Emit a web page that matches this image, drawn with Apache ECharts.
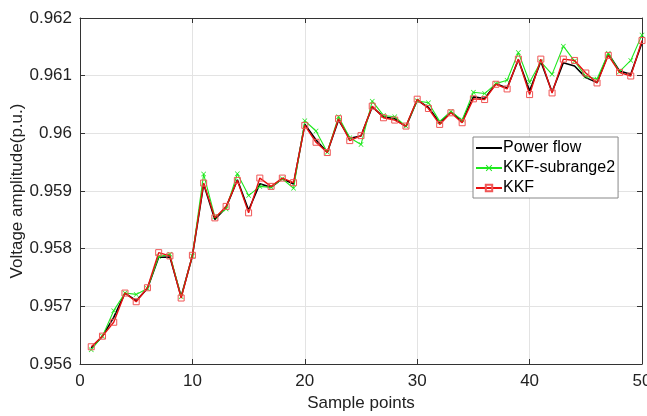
<!DOCTYPE html>
<html><head><meta charset="utf-8">
<script src="https://cdn.jsdelivr.net/npm/echarts@6/dist/echarts.min.js"></script>
<style>html,body{margin:0;padding:0;background:#fff}#c{width:647px;height:416px}</style>
</head><body><div id="c"></div>
<script>
var samples = [];
for (var i = 1; i <= 50; i++) samples.push(i);
var powerFlow = [0.956276,0.956483,0.956810,0.957230,0.957098,0.957310,0.957850,0.957856,0.957167,0.957874,
0.959120,0.958506,0.958716,0.959195,0.958667,0.959126,0.959063,0.959213,0.959120,0.960160,
0.959885,0.959672,0.960230,0.959914,0.959954,0.960460,0.960287,0.960253,0.960115,0.960575,
0.960448,0.960184,0.960374,0.960213,0.960632,0.960603,0.960862,0.960787,0.961276,0.960736,
0.961247,0.960718,0.961224,0.961167,0.960966,0.960879,0.961379,0.961080,0.961023,0.961569];
var kkfSub2 = [0.956247,0.956483,0.956925,0.957230,0.957207,0.957310,0.957862,0.957902,0.957167,0.957874,
0.959293,0.958552,0.958690,0.959299,0.958920,0.959080,0.959063,0.959213,0.959046,0.960218,
0.960040,0.959672,0.960287,0.959925,0.959805,0.960557,0.960310,0.960287,0.960126,0.960563,
0.960529,0.960207,0.960380,0.960230,0.960713,0.960690,0.960862,0.960920,0.961402,0.960885,
0.961241,0.961023,0.961511,0.961253,0.960989,0.960943,0.961390,0.961069,0.961264,0.961707];
var kkf = [0.956299,0.956483,0.956724,0.957230,0.957080,0.957322,0.957931,0.957874,0.957144,0.957885,
0.959138,0.958534,0.958733,0.959184,0.958621,0.959224,0.959080,0.959224,0.959144,0.960138,
0.959845,0.959667,0.960253,0.959874,0.959960,0.960471,0.960270,0.960230,0.960126,0.960592,
0.960431,0.960155,0.960356,0.960184,0.960598,0.960586,0.960851,0.960770,0.961287,0.960672,
0.961287,0.960701,0.961287,0.961264,0.961046,0.960874,0.961351,0.961057,0.960994,0.961609];
var xTicks = [0, 50, 10];
var yTicks = [0.956, 0.962, 0.001];

var FONT = 'Liberation Sans, Arial, sans-serif';
var AX = '#333333';
function pairs(arr){ return arr.map(function(v,i){ return [samples[i], v]; }); }
function fmtY(v){ var s = (Math.round(v*1000)/1000).toFixed(3); return s.replace(/0+$/,''); }

var xPath = 'path://M0,1L1,0L5,4L9,0L10,1L6,5L10,9L9,10L5,6L1,10L0,9L4,5Z';

var chart = echarts.init(document.getElementById('c'), null, {renderer:'canvas'});
chart.setOption({
  animation:false,
  backgroundColor:'#fff',
  grid:{left:80, right:5, top:18, bottom:52, show:false, containLabel:false, outerBoundsMode:'none'},
  legend:{
    orient:'vertical', left:473, top:137,
    backgroundColor:'#fff', borderColor:'#888', borderWidth:1,
    padding:[3,3,2,2], itemGap:4, itemWidth:26, itemHeight:8,
    textStyle:{fontFamily:FONT, fontSize:16, color:'#000', padding:[0,0,0,-4]},
    data:['Power flow','KKF-subrange2','KKF']
  },
  xAxis:[{
    type:'value', min:xTicks[0], max:xTicks[1], interval:xTicks[2],
    name:'Sample points', nameLocation:'middle', nameGap:31, nameMoveOverlap:false,
    nameTextStyle:{fontFamily:FONT, fontSize:17, color:'#222'},
    axisLine:{onZero:false, lineStyle:{color:AX, width:1}},
    axisTick:{inside:true, length:5, lineStyle:{color:AX}},
    axisLabel:{fontFamily:FONT, fontSize:17, color:'#222', margin:9},
    splitLine:{show:true, lineStyle:{color:'#e3e3e3', width:1}}
  },{
    type:'value', position:'top', min:xTicks[0], max:xTicks[1], interval:xTicks[2],
    axisLine:{onZero:false, lineStyle:{color:AX, width:1}},
    axisTick:{inside:true, length:5, lineStyle:{color:AX}},
    axisLabel:{show:false}, splitLine:{show:false}
  }],
  yAxis:[{
    type:'value', min:yTicks[0], max:yTicks[1], interval:yTicks[2],
    name:'Voltage amplitude(p.u.)', nameLocation:'middle', nameGap:54, nameRotate:90, nameMoveOverlap:false,
    nameTextStyle:{fontFamily:FONT, fontSize:17, color:'#222'},
    axisLine:{onZero:false, lineStyle:{color:AX, width:1}},
    axisTick:{inside:true, length:5, lineStyle:{color:AX}},
    axisLabel:{fontFamily:FONT, fontSize:17, color:'#222', margin:8, formatter:fmtY},
    splitLine:{show:true, lineStyle:{color:'#e3e3e3', width:1}}
  },{
    type:'value', position:'right', min:yTicks[0], max:yTicks[1], interval:yTicks[2],
    axisLine:{onZero:false, lineStyle:{color:AX, width:1}},
    axisTick:{inside:true, length:5, lineStyle:{color:AX}},
    axisLabel:{show:false}, splitLine:{show:false}
  }],
  series:[{
    name:'Power flow', type:'line', data:pairs(powerFlow), symbol:'circle', showSymbol:false,
    lineStyle:{color:'#000', width:1.6},
    itemStyle:{color:'rgba(0,0,0,0)', borderColor:'rgba(0,0,0,0)', borderWidth:0}, z:2
  },{
    name:'KKF-subrange2', type:'line', data:pairs(kkfSub2), symbol:xPath, symbolSize:5,
    lineStyle:{color:'#1ee81e', width:1.1}, itemStyle:{color:'#1ee81e'}, z:3
  },{
    name:'KKF', type:'line', data:pairs(kkf), symbol:'rect', symbolSize:6,
    lineStyle:{color:'#e81010', width:1.4},
    itemStyle:{color:'rgba(255,255,255,0)', borderColor:'#f05555', borderWidth:1}, z:4
  }]
});
</script></body></html>
